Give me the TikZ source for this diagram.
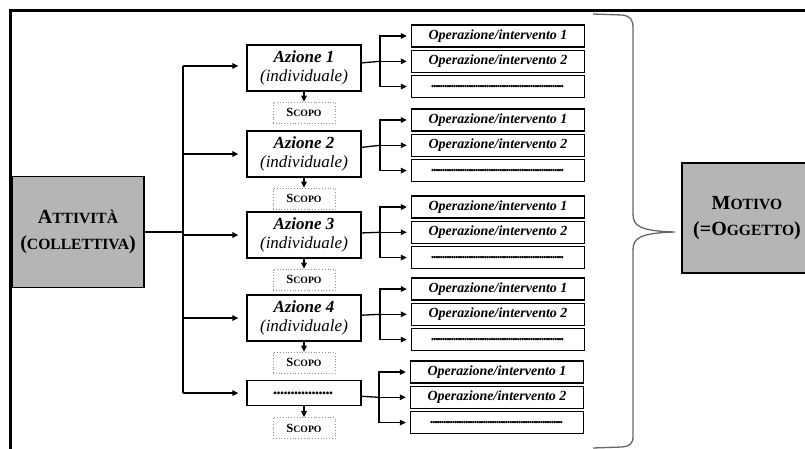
\documentclass[tikz,border=0pt]{standalone}
\usepackage{fontspec}
\setmainfont{Liberation Serif}
\usepackage{tikz}
\usetikzlibrary{calc,positioning,arrows.meta}

\newcommand{\smallcap}[1]{\scalebox{0.78}{#1}}
\newcommand{\dotrow}[2]{\makebox[#1]{\leaders\hbox to #2{\hss.\hss}\hfill}}

\begin{document}
\begin{tikzpicture}[x=1pt, y=-1pt, align=center, line width=1.3pt, >={Triangle[length=6pt,width=5.5pt]},
    main_box/.style={draw, fill=black!29, minimum width=132pt, minimum height=111pt, font=\bfseries\fontsize{20}{26}\selectfont},
    action_box/.style={draw, minimum width=114pt, minimum height=46pt, inner sep=1pt, font=\itshape\fontsize{17}{18.5}\selectfont},
    goal_box/.style={draw=black!45, dotted, line width=0.8pt, minimum width=62pt, minimum height=21pt, inner sep=1pt, font=\bfseries\fontsize{12.5}{14}\selectfont},
    op_box/.style={draw, minimum width=173pt, minimum height=22pt, inner sep=1pt, font=\bfseries\itshape\fontsize{14}{15}\selectfont}]
    \useasboundingbox (0,0) rectangle (805,449);
    \draw[line width=3pt] (805,11) -- (10,11) -- (10,449);

    \node [main_box] (attivita) at (78,232) {A\smallcap{TTIVITÀ}\\(\smallcap{COLLETTIVA})};
    \node [main_box, minimum width=130pt, minimum height=110pt] (motivo) at (747,218) {M\smallcap{OTIVO}\\(=O\smallcap{GGETTO})};

    \node [action_box] (azione_1) at (304,68) {\textbf{Azione 1}\\(individuale)};
    \node [action_box] (azione_2) at (304,154) {\textbf{Azione 2}\\(individuale)};
    \node [action_box] (azione_3) at (304,235) {\textbf{Azione 3}\\(individuale)};
    \node [action_box] (azione_4) at (304,318) {\textbf{Azione 4}\\(individuale)};
    \node [action_box, minimum height=25pt] (azione_5) at (304,393) {\textbf{\dotrow{60pt}{3.5pt}}};

    \node [goal_box, below=10pt of azione_1] (scopo_1) {S\smallcap{COPO}};
    \node [goal_box, below=10pt of azione_2] (scopo_2) {S\smallcap{COPO}};
    \node [goal_box, below=10pt of azione_3] (scopo_3) {S\smallcap{COPO}};
    \node [goal_box, below=10pt of azione_4] (scopo_4) {S\smallcap{COPO}};
    \node [goal_box, below=11pt of azione_5] (scopo_5) {S\smallcap{COPO}};

    \node [op_box] (op_1_1) at (498,36) {Operazione/intervento 1};
    \node [op_box, below=2pt of op_1_1] (op_1_2) {Operazione/intervento 2};
    \node [op_box, below=2pt of op_1_2] (op_1_3) {\dotrow{132pt}{2.2pt}};
    \node [op_box] (op_2_1) at (498,120) {Operazione/intervento 1};
    \node [op_box, below=2pt of op_2_1] (op_2_2) {Operazione/intervento 2};
    \node [op_box, below=2pt of op_2_2] (op_2_3) {\dotrow{132pt}{2.2pt}};
    \node [op_box] (op_3_1) at (498,207) {Operazione/intervento 1};
    \node [op_box, below=2pt of op_3_1] (op_3_2) {Operazione/intervento 2};
    \node [op_box, below=2pt of op_3_2] (op_3_3) {\dotrow{132pt}{2.2pt}};
    \node [op_box] (op_4_1) at (498,289) {Operazione/intervento 1};
    \node [op_box, below=2pt of op_4_1] (op_4_2) {Operazione/intervento 2};
    \node [op_box, below=2pt of op_4_2] (op_4_3) {\dotrow{132pt}{2.2pt}};
    \node [op_box] (op_5_1) at (497,372) {Operazione/intervento 1};
    \node [op_box, below=2pt of op_5_1] (op_5_2) {Operazione/intervento 2};
    \node [op_box, below=2pt of op_5_2] (op_5_3) {\dotrow{132pt}{2.2pt}};

    \coordinate (trunk_top) at (183,66);
    \coordinate (trunk_bottom) at (183,393);
    \draw (trunk_top) -- (trunk_bottom);
    \draw (attivita) -- (attivita -| trunk_top);
    \draw[->, shorten >=8pt] (trunk_top) -- (trunk_top -| azione_1.west);
    \draw[->, shorten >=8pt] (trunk_top |- azione_2) -- (azione_2);
    \draw[->, shorten >=8pt] (trunk_top |- azione_3) -- (azione_3);
    \draw[->, shorten >=8pt] (trunk_top |- azione_4) -- (azione_4);
    \draw[->, shorten >=8pt] (trunk_bottom) -- (azione_5);

    \draw[->] (azione_1) -- (scopo_1);
    \draw[->] (azione_2) -- (scopo_2);
    \draw[->] (azione_3) -- (scopo_3);
    \draw[->] (azione_4) -- (scopo_4);
    \draw[->] (azione_5) -- (scopo_5);

    \coordinate [left=31pt of op_1_2.west] (fork_1);
    \coordinate [left=31pt of op_2_2.west] (fork_2);
    \coordinate [left=31pt of op_3_2.west] (fork_3);
    \coordinate [left=31pt of op_4_2.west] (fork_4);
    \coordinate [left=31pt of op_5_2.west] (fork_5);

    \draw (azione_1) -- (fork_1);
    \draw[->, shorten >=4pt] (fork_1) |- (op_1_1);
    \draw[->, shorten >=4pt] (fork_1) -- (op_1_2);
    \draw[->, shorten >=4pt] (fork_1) |- (op_1_3);
    \draw (azione_2) -- (fork_2);
    \draw[->, shorten >=4pt] (fork_2) |- (op_2_1);
    \draw[->, shorten >=4pt] (fork_2) -- (op_2_2);
    \draw[->, shorten >=4pt] (fork_2) |- (op_2_3);
    \draw (azione_3) -- (fork_3);
    \draw[->, shorten >=4pt] (fork_3) |- (op_3_1);
    \draw[->, shorten >=4pt] (fork_3) -- (op_3_2);
    \draw[->, shorten >=4pt] (fork_3) |- (op_3_3);
    \draw (azione_4) -- (fork_4);
    \draw[->, shorten >=4pt] (fork_4) |- (op_4_1);
    \draw[->, shorten >=4pt] (fork_4) -- (op_4_2);
    \draw[->, shorten >=4pt] (fork_4) |- (op_4_3);
    \draw (azione_5) -- (fork_5);
    \draw[->, shorten >=4pt] (fork_5) |- (op_5_1);
    \draw[->, shorten >=4pt] (fork_5) -- (op_5_2);
    \draw[->, shorten >=4pt] (fork_5) |- (op_5_3);

    % brace towards the motive
    \draw[black!60, line width=1.3pt] (593,14) -- (622,15) .. controls (630,16) and (633,19) .. (633,28) -- (633,214)
        .. controls (633,226) and (640,231) .. (675,232) .. controls (640,233) and (633,238) .. (633,250) -- (633,436)
        .. controls (633,444) and (630,446) .. (622,447) -- (593,448);
\end{tikzpicture}
\end{document}
